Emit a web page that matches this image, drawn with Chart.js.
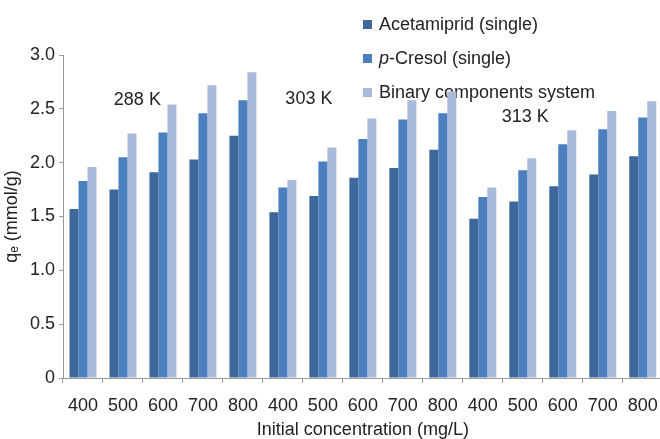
<!DOCTYPE html>
<html>
<head>
<meta charset="utf-8">
<script src="https://cdn.jsdelivr.net/npm/chart.js@4/dist/chart.umd.min.js"></script>
<style>
  html, body { margin: 0; padding: 0; background: #fff; overflow: hidden; }
  #wrap { width: 670px; height: 439px; }
</style>
</head>
<body>
<div id="wrap"><canvas id="c" width="670" height="439"></canvas></div>
<script>
// ---- data ----
const concentrations = ['400', '500', '600', '700', '800'];
const temperatures = ['288 K', '303 K', '313 K'];
const categories = [].concat(concentrations, concentrations, concentrations);

const acetamipridSingle = [1.57, 1.75, 1.91, 2.03, 2.25,  1.54, 1.69, 1.86, 1.95, 2.12,  1.48, 1.64, 1.78, 1.89, 2.06];
const pCresolSingle     = [1.83, 2.05, 2.28, 2.46, 2.58,  1.77, 2.01, 2.22, 2.40, 2.46,  1.68, 1.93, 2.17, 2.31, 2.42];
const binarySystem      = [1.96, 2.27, 2.54, 2.72, 2.84,  1.84, 2.14, 2.41, 2.58, 2.66,  1.77, 2.04, 2.30, 2.48, 2.57];

const seriesNames = ['Acetamiprid (single)', 'p-Cresol (single)', 'Binary components system'];
const yTicks = [0, 0.5, 1.0, 1.5, 2.0, 2.5, 3.0];

// temperature label anchors (category index, value)
const tempLabelX = [1.36, 5.65, 11.06];
const tempLabelY = [2.58, 2.59, 2.42];

const colors = ['#3e679b', '#4b7fbe', '#a9badb'];
const FONT = '"Liberation Sans", Arial, Helvetica, sans-serif';

const overlay = {
  id: 'overlay',
  beforeDatasetsDraw(chart) {
    const ctx = chart.ctx;
    ctx.save();
    ctx.font = '18px ' + FONT;
    ctx.textBaseline = 'middle';
    ctx.textAlign = 'left';
    const rows = [25, 59, 93];
    chart.data.datasets.forEach((ds, i) => {
      ctx.fillStyle = ds.backgroundColor;
      ctx.fillRect(363, rows[i] - 5, 9, 9);
      ctx.fillStyle = '#222';
      const name = seriesNames[i];
      if (name.startsWith('p-')) {
        ctx.font = 'italic 18px ' + FONT;
        ctx.fillText('p', 379, rows[i]);
        const w = ctx.measureText('p').width;
        ctx.font = '18px ' + FONT;
        ctx.fillText(name.slice(1), 379 + w, rows[i]);
      } else {
        ctx.fillText(name, 379, rows[i]);
      }
    });
    // temperature labels
    const xs = chart.scales.x, ys = chart.scales.y;
    ctx.textAlign = 'center';
    temperatures.forEach((t, i) => {
      const px = xs.getPixelForValue(tempLabelX[i]);
      const py = ys.getPixelForValue(tempLabelY[i]);
      ctx.fillText(t, px, py);
    });
    ctx.restore();
  }
};

new Chart(document.getElementById('c'), {
  type: 'bar',
  data: {
    labels: categories,
    datasets: [
      { label: seriesNames[0], data: acetamipridSingle, backgroundColor: colors[0] },
      { label: seriesNames[1], data: pCresolSingle, backgroundColor: colors[1] },
      { label: seriesNames[2], data: binarySystem, backgroundColor: colors[2] }
    ]
  },
  options: {
    responsive: false,
    animation: false,
    devicePixelRatio: 1,
    layout: { padding: { top: 55, right: 7, left: 0, bottom: 0 } },
    datasets: { bar: { categoryPercentage: 0.675, barPercentage: 1.0, borderWidth: 0 } },
    plugins: { legend: { display: false }, tooltip: { enabled: false } },
    scales: {
      x: {
        type: 'category',
        grid: { display: true, offset: true, drawOnChartArea: false, drawTicks: true, tickLength: 5, color: '#9a9a9a' },
        border: { display: true, color: '#9a9a9a', width: 1 },
        ticks: { font: { family: FONT, size: 18 }, color: '#222', padding: 12, maxRotation: 0, autoSkip: false },
        title: { display: true, text: 'Initial concentration (mg/L)', font: { family: FONT, size: 18 }, color: '#222', padding: { top: 0, bottom: -2 } },
        afterFit(scale) { scale.height = 61; }
      },
      y: {
        min: 0, max: 3,
        afterBuildTicks(scale) { scale.ticks = yTicks.map(v => ({ value: v })); },
        grid: { display: true, drawOnChartArea: false, drawTicks: true, tickLength: 4, color: '#9a9a9a' },
        border: { display: true, color: '#9a9a9a', width: 1 },
        ticks: { font: { family: FONT, size: 18 }, color: '#222', padding: 4,
          callback: (v) => v === 0 ? '0' : Number(v).toFixed(1) },
        title: { display: true, text: 'qₑ (mmol/g)', font: { family: FONT, size: 18 }, color: '#222', padding: { top: 1, bottom: 0 } },
        afterFit(scale) { scale.width = 63; }
      }
    }
  },
  plugins: [overlay]
});
</script>
</body>
</html>
